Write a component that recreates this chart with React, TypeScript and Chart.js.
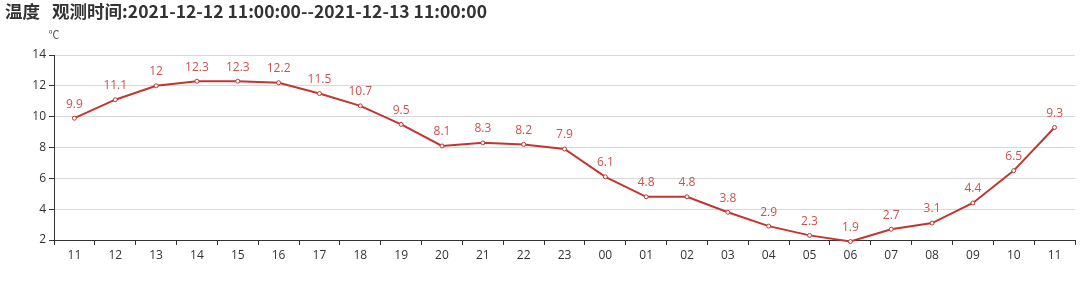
import React, { useEffect, useRef } from "react";
import { Chart, registerables } from "chart.js";

Chart.register(...registerables);

const categories = ["11","12","13","14","15","16","17","18","19","20","21","22","23","00","01","02","03","04","05","06","07","08","09","10","11"];
const temps = [9.9, 11.1, 12, 12.3, 12.3, 12.2, 11.5, 10.7, 9.5, 8.1, 8.3, 8.2, 7.9, 6.1, 4.8, 4.8, 3.8, 2.9, 2.3, 1.9, 2.7, 3.1, 4.4, 6.5, 9.3];
const titleMain = "温度";
const titleSub = "观测时间:2021-12-12 11:00:00--2021-12-13 11:00:00";
const unitLabel = "℃";
const yMin = 2;
const yMax = 14;
const yStep = 2;

const FONT = "'Open Sans', 'Noto Sans CJK SC', sans-serif";
const LINE = "#c23531";

function fitText(ctx: any, text: string, x: number, y: number, targetW: number) {
  const w = ctx.measureText(text).width;
  const s = targetW / w;
  ctx.save();
  ctx.translate(x, y);
  ctx.scale(s, 1);
  ctx.fillText(text, 0, 0);
  ctx.restore();
}

const overlayPlugin = {
  id: "overlay",
  afterDatasetsDraw(chart: any) {
    const ctx = chart.ctx;
    const meta = chart.getDatasetMeta(0);
    ctx.save();
    ctx.fillStyle = "#c9534f";
    ctx.font = `12px ${FONT}`;
    ctx.textAlign = "center";
    ctx.textBaseline = "middle";
    meta.data.forEach((pt: any, i: number) => {
      ctx.fillText(String(temps[i]), pt.x, pt.y - 14);
    });
    ctx.restore();
  },
  afterDraw(chart: any) {
    const ctx = chart.ctx;
    ctx.save();
    ctx.fillStyle = "#333";
    ctx.font = `bold 17px 'Noto Sans CJK SC', sans-serif`;
    ctx.textBaseline = "middle";
    ctx.textAlign = "left";
    fitText(ctx, titleMain, 5, 12, 35);
    fitText(ctx, titleSub, 52, 12, 435);
    ctx.fillStyle = "#555";
    ctx.font = `11px 'Noto Sans CJK SC', sans-serif`;
    ctx.textAlign = "center";
    ctx.fillText(unitLabel, 54, 35);
    ctx.restore();
  },
};

export default function App() {
  const ref = useRef<HTMLCanvasElement | null>(null);
  useEffect(() => {
    if (!ref.current) return;
    const chart = new Chart(ref.current, {
      type: "line",
      data: {
        labels: categories,
        datasets: [
          {
            data: temps,
            borderColor: LINE,
            borderWidth: 2,
            backgroundColor: "#fff",
            pointBackgroundColor: "#fff",
            pointBorderColor: LINE,
            pointBorderWidth: 1,
            pointRadius: 2,
            tension: 0,
            clip: false as any,
          },
        ],
      },
      options: {
        animation: false,
        responsive: false,
        maintainAspectRatio: false,
        layout: { padding: { top: 55, right: 2, left: 0, bottom: 0 } },
        plugins: { legend: { display: false }, tooltip: { enabled: false } },
        scales: {
          x: {
            type: "category",
            offset: true,
            grid: { drawOnChartArea: false, drawTicks: true, tickLength: 5, color: "#333", offset: true },
            border: { color: "#333", width: 1 },
            ticks: { color: "#333", font: { size: 12, family: FONT }, padding: 3, maxRotation: 0, autoSkip: false },
            afterFit: (s: any) => { s.height = 57; },
          },
          y: {
            min: yMin,
            max: yMax,
            grid: { color: "#d8d8d8", tickLength: 5, drawTicks: true, tickColor: "#333" },
            border: { color: "#333", width: 1 },
            ticks: { stepSize: yStep, color: "#333", font: { size: 12, family: FONT }, padding: 3 },
            afterFit: (s: any) => { s.width = 54; },
          },
        },
      },
      plugins: [overlayPlugin],
    });
    return () => chart.destroy();
  }, []);
  return (
    <div style={{ position: "absolute", left: 0, top: 0, width: 1080, height: 297, background: "#fff" }}>
      <canvas ref={ref} width={1080} height={297} style={{ width: 1080, height: 297, display: "block" }} />
    </div>
  );
}
